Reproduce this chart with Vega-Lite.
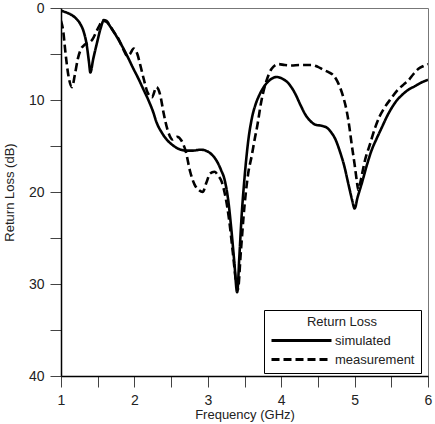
{
  "$schema": "https://vega.github.io/schema/vega-lite/v6.json",
  "autosize": "none",
  "width": 367,
  "height": 368,
  "padding": {"left": 61, "top": 8, "right": 7, "bottom": 48},
  "background": "white",
  "config": {
    "font": "Liberation Sans",
    "view": {"stroke": "#777", "strokeWidth": 1},
    "axis": {
      "grid": false,
      "domainColor": "black",
      "domainWidth": 1.5,
      "tickColor": "#444",
      "tickWidth": 1,
      "labelFont": "Liberation Sans",
      "labelFontSize": 14,
      "labelColor": "#222",
      "titleFont": "Liberation Sans",
      "titleFontSize": 13,
      "titleFontWeight": "normal",
      "titleColor": "#222"
    }
  },
  "data": {
    "values": [
      {"f": 1.00, "dB": 0.3, "series": "simulated"},
      {"f": 1.06, "dB": 0.45, "series": "simulated"},
      {"f": 1.12, "dB": 0.65, "series": "simulated"},
      {"f": 1.20, "dB": 1.1, "series": "simulated"},
      {"f": 1.26, "dB": 1.7, "series": "simulated"},
      {"f": 1.31, "dB": 2.6, "series": "simulated"},
      {"f": 1.35, "dB": 4.0, "series": "simulated"},
      {"f": 1.38, "dB": 5.8, "series": "simulated"},
      {"f": 1.40, "dB": 7.0, "series": "simulated"},
      {"f": 1.44, "dB": 5.5, "series": "simulated"},
      {"f": 1.49, "dB": 3.8, "series": "simulated"},
      {"f": 1.54, "dB": 2.2, "series": "simulated"},
      {"f": 1.58, "dB": 1.4, "series": "simulated"},
      {"f": 1.62, "dB": 1.5, "series": "simulated"},
      {"f": 1.67, "dB": 2.0, "series": "simulated"},
      {"f": 1.72, "dB": 2.6, "series": "simulated"},
      {"f": 1.78, "dB": 3.4, "series": "simulated"},
      {"f": 1.85, "dB": 4.4, "series": "simulated"},
      {"f": 1.92, "dB": 5.5, "series": "simulated"},
      {"f": 1.98, "dB": 6.5, "series": "simulated"},
      {"f": 2.05, "dB": 7.6, "series": "simulated"},
      {"f": 2.12, "dB": 8.8, "series": "simulated"},
      {"f": 2.19, "dB": 10.0, "series": "simulated"},
      {"f": 2.26, "dB": 11.4, "series": "simulated"},
      {"f": 2.30, "dB": 12.4, "series": "simulated"},
      {"f": 2.37, "dB": 13.5, "series": "simulated"},
      {"f": 2.44, "dB": 14.3, "series": "simulated"},
      {"f": 2.52, "dB": 14.9, "series": "simulated"},
      {"f": 2.60, "dB": 15.3, "series": "simulated"},
      {"f": 2.70, "dB": 15.5, "series": "simulated"},
      {"f": 2.80, "dB": 15.5, "series": "simulated"},
      {"f": 2.90, "dB": 15.4, "series": "simulated"},
      {"f": 2.97, "dB": 15.5, "series": "simulated"},
      {"f": 3.05, "dB": 15.9, "series": "simulated"},
      {"f": 3.12, "dB": 16.6, "series": "simulated"},
      {"f": 3.18, "dB": 17.6, "series": "simulated"},
      {"f": 3.23, "dB": 18.7, "series": "simulated"},
      {"f": 3.28, "dB": 21.0, "series": "simulated"},
      {"f": 3.32, "dB": 24.0, "series": "simulated"},
      {"f": 3.36, "dB": 27.5, "series": "simulated"},
      {"f": 3.40, "dB": 30.9, "series": "simulated"},
      {"f": 3.43, "dB": 27.0, "series": "simulated"},
      {"f": 3.46, "dB": 22.7, "series": "simulated"},
      {"f": 3.50, "dB": 18.5, "series": "simulated"},
      {"f": 3.55, "dB": 14.5, "series": "simulated"},
      {"f": 3.60, "dB": 12.0, "series": "simulated"},
      {"f": 3.65, "dB": 10.5, "series": "simulated"},
      {"f": 3.70, "dB": 9.5, "series": "simulated"},
      {"f": 3.77, "dB": 8.5, "series": "simulated"},
      {"f": 3.85, "dB": 7.8, "series": "simulated"},
      {"f": 3.94, "dB": 7.5, "series": "simulated"},
      {"f": 4.02, "dB": 7.7, "series": "simulated"},
      {"f": 4.10, "dB": 8.2, "series": "simulated"},
      {"f": 4.19, "dB": 9.3, "series": "simulated"},
      {"f": 4.26, "dB": 10.5, "series": "simulated"},
      {"f": 4.33, "dB": 11.6, "series": "simulated"},
      {"f": 4.40, "dB": 12.3, "series": "simulated"},
      {"f": 4.47, "dB": 12.7, "series": "simulated"},
      {"f": 4.55, "dB": 12.8, "series": "simulated"},
      {"f": 4.62, "dB": 13.0, "series": "simulated"},
      {"f": 4.68, "dB": 13.5, "series": "simulated"},
      {"f": 4.74, "dB": 14.3, "series": "simulated"},
      {"f": 4.80, "dB": 15.6, "series": "simulated"},
      {"f": 4.86, "dB": 17.2, "series": "simulated"},
      {"f": 4.92, "dB": 19.3, "series": "simulated"},
      {"f": 4.97, "dB": 21.0, "series": "simulated"},
      {"f": 5.00, "dB": 21.8, "series": "simulated"},
      {"f": 5.04, "dB": 20.6, "series": "simulated"},
      {"f": 5.10, "dB": 19.0, "series": "simulated"},
      {"f": 5.17, "dB": 17.0, "series": "simulated"},
      {"f": 5.23, "dB": 15.5, "series": "simulated"},
      {"f": 5.30, "dB": 14.2, "series": "simulated"},
      {"f": 5.37, "dB": 13.0, "series": "simulated"},
      {"f": 5.44, "dB": 11.8, "series": "simulated"},
      {"f": 5.51, "dB": 10.8, "series": "simulated"},
      {"f": 5.58, "dB": 10.0, "series": "simulated"},
      {"f": 5.64, "dB": 9.5, "series": "simulated"},
      {"f": 5.73, "dB": 8.9, "series": "simulated"},
      {"f": 5.82, "dB": 8.5, "series": "simulated"},
      {"f": 5.91, "dB": 8.1, "series": "simulated"},
      {"f": 6.00, "dB": 7.8, "series": "simulated"},
      {"f": 1.00, "dB": 1.4, "series": "measurement"},
      {"f": 1.03, "dB": 2.5, "series": "measurement"},
      {"f": 1.06, "dB": 4.8, "series": "measurement"},
      {"f": 1.10, "dB": 7.3, "series": "measurement"},
      {"f": 1.15, "dB": 8.6, "series": "measurement"},
      {"f": 1.19, "dB": 7.2, "series": "measurement"},
      {"f": 1.23, "dB": 5.5, "series": "measurement"},
      {"f": 1.27, "dB": 4.5, "series": "measurement"},
      {"f": 1.32, "dB": 4.0, "series": "measurement"},
      {"f": 1.38, "dB": 3.8, "series": "measurement"},
      {"f": 1.43, "dB": 3.4, "series": "measurement"},
      {"f": 1.48, "dB": 2.6, "series": "measurement"},
      {"f": 1.53, "dB": 1.8, "series": "measurement"},
      {"f": 1.58, "dB": 1.3, "series": "measurement"},
      {"f": 1.62, "dB": 1.4, "series": "measurement"},
      {"f": 1.67, "dB": 2.0, "series": "measurement"},
      {"f": 1.72, "dB": 2.6, "series": "measurement"},
      {"f": 1.78, "dB": 3.3, "series": "measurement"},
      {"f": 1.85, "dB": 4.5, "series": "measurement"},
      {"f": 1.90, "dB": 5.2, "series": "measurement"},
      {"f": 1.94, "dB": 5.0, "series": "measurement"},
      {"f": 1.99, "dB": 4.4, "series": "measurement"},
      {"f": 2.04, "dB": 5.0, "series": "measurement"},
      {"f": 2.08, "dB": 6.2, "series": "measurement"},
      {"f": 2.13, "dB": 7.8, "series": "measurement"},
      {"f": 2.18, "dB": 9.2, "series": "measurement"},
      {"f": 2.24, "dB": 9.7, "series": "measurement"},
      {"f": 2.30, "dB": 8.6, "series": "measurement"},
      {"f": 2.35, "dB": 9.4, "series": "measurement"},
      {"f": 2.40, "dB": 11.5, "series": "measurement"},
      {"f": 2.45, "dB": 13.2, "series": "measurement"},
      {"f": 2.52, "dB": 14.3, "series": "measurement"},
      {"f": 2.58, "dB": 14.0, "series": "measurement"},
      {"f": 2.64, "dB": 14.4, "series": "measurement"},
      {"f": 2.70, "dB": 15.6, "series": "measurement"},
      {"f": 2.76, "dB": 17.8, "series": "measurement"},
      {"f": 2.82, "dB": 19.2, "series": "measurement"},
      {"f": 2.88, "dB": 19.8, "series": "measurement"},
      {"f": 2.93, "dB": 20.0, "series": "measurement"},
      {"f": 2.98, "dB": 19.0, "series": "measurement"},
      {"f": 3.03, "dB": 18.0, "series": "measurement"},
      {"f": 3.09, "dB": 17.8, "series": "measurement"},
      {"f": 3.14, "dB": 18.2, "series": "measurement"},
      {"f": 3.19, "dB": 18.9, "series": "measurement"},
      {"f": 3.24, "dB": 20.5, "series": "measurement"},
      {"f": 3.29, "dB": 23.0, "series": "measurement"},
      {"f": 3.34, "dB": 26.5, "series": "measurement"},
      {"f": 3.39, "dB": 30.0, "series": "measurement"},
      {"f": 3.41, "dB": 30.6, "series": "measurement"},
      {"f": 3.45, "dB": 26.5, "series": "measurement"},
      {"f": 3.50, "dB": 21.5, "series": "measurement"},
      {"f": 3.55, "dB": 18.0, "series": "measurement"},
      {"f": 3.60, "dB": 16.0, "series": "measurement"},
      {"f": 3.64, "dB": 14.2, "series": "measurement"},
      {"f": 3.67, "dB": 13.0, "series": "measurement"},
      {"f": 3.73, "dB": 10.1, "series": "measurement"},
      {"f": 3.80, "dB": 7.9, "series": "measurement"},
      {"f": 3.87, "dB": 6.6, "series": "measurement"},
      {"f": 3.96, "dB": 6.1, "series": "measurement"},
      {"f": 4.05, "dB": 6.2, "series": "measurement"},
      {"f": 4.14, "dB": 6.25, "series": "measurement"},
      {"f": 4.25, "dB": 6.2, "series": "measurement"},
      {"f": 4.35, "dB": 6.2, "series": "measurement"},
      {"f": 4.42, "dB": 6.2, "series": "measurement"},
      {"f": 4.50, "dB": 6.4, "series": "measurement"},
      {"f": 4.57, "dB": 6.7, "series": "measurement"},
      {"f": 4.65, "dB": 7.0, "series": "measurement"},
      {"f": 4.71, "dB": 7.3, "series": "measurement"},
      {"f": 4.76, "dB": 7.9, "series": "measurement"},
      {"f": 4.80, "dB": 8.6, "series": "measurement"},
      {"f": 4.85, "dB": 9.8, "series": "measurement"},
      {"f": 4.89, "dB": 11.1, "series": "measurement"},
      {"f": 4.93, "dB": 13.0, "series": "measurement"},
      {"f": 4.96, "dB": 14.8, "series": "measurement"},
      {"f": 5.00, "dB": 17.0, "series": "measurement"},
      {"f": 5.03, "dB": 18.8, "series": "measurement"},
      {"f": 5.05, "dB": 19.8, "series": "measurement"},
      {"f": 5.09, "dB": 18.5, "series": "measurement"},
      {"f": 5.14, "dB": 16.6, "series": "measurement"},
      {"f": 5.21, "dB": 14.8, "series": "measurement"},
      {"f": 5.28, "dB": 13.0, "series": "measurement"},
      {"f": 5.34, "dB": 11.8, "series": "measurement"},
      {"f": 5.41, "dB": 10.8, "series": "measurement"},
      {"f": 5.50, "dB": 9.8, "series": "measurement"},
      {"f": 5.60, "dB": 8.8, "series": "measurement"},
      {"f": 5.67, "dB": 8.3, "series": "measurement"},
      {"f": 5.73, "dB": 7.9, "series": "measurement"},
      {"f": 5.80, "dB": 7.2, "series": "measurement"},
      {"f": 5.87, "dB": 6.6, "series": "measurement"},
      {"f": 5.94, "dB": 6.3, "series": "measurement"},
      {"f": 6.00, "dB": 6.1, "series": "measurement"}
    ]
  },
  "mark": {"type": "line", "color": "black", "strokeWidth": 2.6, "interpolate": "monotone", "clip": true},
  "encoding": {
    "x": {
      "field": "f",
      "type": "quantitative",
      "scale": {"domain": [1, 6], "nice": false, "zero": false},
      "axis": {
        "title": "Frequency (GHz)",
        "values": [1, 1.5, 2, 2.5, 3, 3.5, 4, 4.5, 5, 5.5, 6],
        "labelExpr": "datum.value % 1 === 0 ? format(datum.value, 'd') : ''",
        "tickSize": 11,
        "labelPadding": 6,
        "titlePadding": 1,
        "labelFlush": false,
        "labelOverlap": false,
        "encode": {"ticks": {"update": {"y2": {"signal": "datum.value % 1 === 0 ? 11 : 7"}}}}
      }
    },
    "y": {
      "field": "dB",
      "type": "quantitative",
      "scale": {"domain": [0, 40], "reverse": true, "nice": false},
      "axis": {
        "title": "Return Loss (dB)",
        "values": [0, 5, 10, 15, 20, 25, 30, 35, 40],
        "labelExpr": "datum.value % 10 === 0 ? format(datum.value, 'd') : ''",
        "tickSize": 11,
        "labelPadding": 6,
        "titlePadding": 12,
        "labelFlush": false,
        "labelOverlap": false,
        "encode": {"ticks": {"update": {"x2": {"signal": "datum.value % 10 === 0 ? -11 : -5"}}}}
      }
    },
    "strokeDash": {
      "field": "series",
      "type": "nominal",
      "scale": {"domain": ["simulated", "measurement"], "range": [[1, 0], [8, 4]]},
      "legend": {
        "title": "Return Loss",
        "orient": "none",
        "legendX": 203,
        "legendY": 302,
        "direction": "vertical",
        "strokeColor": "black",
        "fillColor": "white",
        "padding": 6,
        "titleAnchor": "middle",
        "titleFontSize": 13,
        "titleFontWeight": "normal",
        "titleColor": "#222",
        "titlePadding": 5,
        "labelFontSize": 13,
        "labelColor": "#222",
        "rowPadding": 5,
        "symbolType": "M-6,0H6",
        "symbolSize": 100,
        "symbolOffset": 25,
        "labelOffset": 27,
        "symbolStrokeColor": "black",
        "symbolStrokeWidth": 3
      }
    }
  }
}
